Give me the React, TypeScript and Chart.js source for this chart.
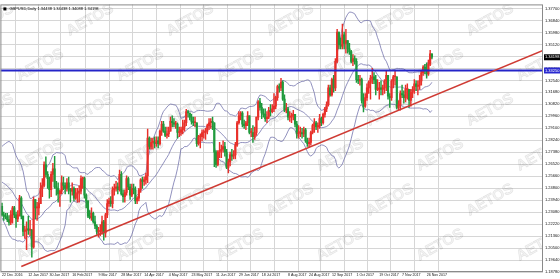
import React, { useEffect, useRef } from "react";
import { Chart, registerables } from "chart.js";
Chart.register(...registerables);

// ---------------- DATA ----------------
const symbolText = "GBPUSD,Daily";
const startDate = "2016-12-22"; // first visible bar (weekday bars follow)
const firstOpen = 1.235;

// 19 closes before the first visible bar (for the Bollinger warm-up)
const warmupCloses = [
  1.247, 1.242, 1.248, 1.251, 1.259, 1.259, 1.274, 1.27, 1.261, 1.256, 1.258, 1.265, 1.268, 1.265, 1.244,
  1.249, 1.239, 1.231, 1.235,
];

const highs = [
  // Dec 2016
  1.2375, 1.231, 1.23, 1.23, 1.2285, 1.232, 1.235,
  // Jan
  1.235, 1.231, 1.232, 1.243, 1.242, 1.228, 1.221, 1.224, 1.228, 1.225, 1.2185, 1.2417, 1.24, 1.238, 1.241, 1.252,
  1.255, 1.267, 1.2706, 1.26, 1.256, 1.26,
  // Feb
  1.266, 1.271, 1.253, 1.252, 1.247, 1.257, 1.256, 1.252, 1.255, 1.256, 1.248, 1.252, 1.249, 1.248, 1.248, 1.25,
  1.257, 1.256, 1.256, 1.244,
  // Mar
  1.239, 1.232, 1.234, 1.231, 1.228, 1.222, 1.22, 1.222, 1.228, 1.225, 1.23, 1.24, 1.241, 1.242, 1.249, 1.251,
  1.253, 1.252, 1.261, 1.26, 1.247, 1.247, 1.257,
  // Apr
  1.256, 1.251, 1.251, 1.251, 1.249, 1.242, 1.248, 1.255, 1.256, 1.256, 1.259, 1.2905, 1.285, 1.284, 1.284, 1.285,
  1.285, 1.285, 1.29, 1.296,
  // May
  1.296, 1.292, 1.292, 1.292, 1.299, 1.3, 1.298, 1.296, 1.295, 1.292, 1.292, 1.297, 1.297, 1.3047, 1.304, 1.302,
  1.301, 1.299, 1.299, 1.295, 1.286, 1.287, 1.29,
  // Jun
  1.29, 1.291, 1.294, 1.298, 1.298, 1.299, 1.295, 1.275, 1.275, 1.281, 1.279, 1.282, 1.281, 1.276, 1.269, 1.274,
  1.276, 1.275, 1.281, 1.296, 1.303, 1.303,
  // Jul
  1.303, 1.297, 1.296, 1.303, 1.3, 1.291, 1.293, 1.292, 1.299, 1.311, 1.3126, 1.309, 1.305, 1.305, 1.303, 1.306,
  1.308, 1.308, 1.316, 1.314, 1.322,
  // Aug
  1.323, 1.3268, 1.325, 1.315, 1.309, 1.306, 1.303, 1.302, 1.304, 1.301, 1.296, 1.293, 1.292, 1.291, 1.292, 1.291,
  1.284, 1.284, 1.289, 1.294, 1.298, 1.296, 1.295,
  // Sep
  1.301, 1.299, 1.302, 1.306, 1.31, 1.322, 1.322, 1.327, 1.329, 1.341, 1.362, 1.36, 1.356, 1.3657, 1.36, 1.362,
  1.354, 1.352, 1.347, 1.344, 1.343,
  // Oct
  1.341, 1.329, 1.329, 1.327, 1.316, 1.316, 1.323, 1.325, 1.329, 1.334, 1.331, 1.329, 1.326, 1.324, 1.325, 1.322,
  1.326, 1.332, 1.329, 1.316, 1.326, 1.329,
  // Nov
  1.332, 1.328, 1.311, 1.318, 1.322, 1.318, 1.322, 1.323, 1.319, 1.319, 1.321, 1.326, 1.325, 1.325, 1.329, 1.332,
  1.336, 1.337, 1.338, 1.34, 1.347, 1.34438,
];

const lows = [
  // Dec 2016
  1.228, 1.225, 1.226, 1.224, 1.2215, 1.222, 1.223,
  // Jan
  1.227, 1.22, 1.224, 1.228, 1.226, 1.214, 1.212, 1.204, 1.215, 1.214, 1.1986, 1.205, 1.226, 1.225, 1.229, 1.237,
  1.242, 1.249, 1.256, 1.248, 1.241, 1.242,
  // Feb
  1.253, 1.248, 1.243, 1.238, 1.235, 1.244, 1.247, 1.244, 1.246, 1.244, 1.238, 1.243, 1.239, 1.24, 1.238, 1.238,
  1.244, 1.248, 1.241, 1.234,
  // Mar
  1.227, 1.226, 1.225, 1.223, 1.219, 1.215, 1.213, 1.214, 1.215, 1.2109, 1.213, 1.227, 1.235, 1.235, 1.234, 1.243,
  1.246, 1.244, 1.246, 1.243, 1.238, 1.238, 1.243,
  // Apr
  1.247, 1.24, 1.242, 1.244, 1.237, 1.237, 1.239, 1.245, 1.248, 1.25, 1.251, 1.252, 1.276, 1.276, 1.276, 1.277,
  1.278, 1.277, 1.279, 1.286,
  // May
  1.288, 1.285, 1.284, 1.285, 1.289, 1.292, 1.292, 1.291, 1.284, 1.285, 1.286, 1.287, 1.289, 1.293, 1.299, 1.297,
  1.294, 1.293, 1.292, 1.278, 1.279, 1.277, 1.282,
  // Jun
  1.284, 1.283, 1.287, 1.29, 1.291, 1.29, 1.2635, 1.263, 1.264, 1.27, 1.27, 1.274, 1.271, 1.262, 1.259, 1.264,
  1.268, 1.269, 1.269, 1.278, 1.294, 1.297,
  // Jul
  1.292, 1.291, 1.29, 1.293, 1.287, 1.285, 1.281, 1.283, 1.286, 1.297, 1.304, 1.298, 1.299, 1.296, 1.295, 1.298,
  1.3, 1.302, 1.303, 1.305, 1.311,
  // Aug
  1.317, 1.318, 1.311, 1.303, 1.302, 1.297, 1.296, 1.295, 1.297, 1.292, 1.284, 1.284, 1.285, 1.284, 1.285, 1.281,
  1.278, 1.2774, 1.279, 1.287, 1.288, 1.29, 1.288,
  // Sep
  1.291, 1.293, 1.294, 1.299, 1.303, 1.307, 1.314, 1.314, 1.317, 1.318, 1.338, 1.348, 1.348, 1.348, 1.348, 1.345,
  1.345, 1.344, 1.338, 1.336, 1.337,
  // Oct
  1.324, 1.323, 1.322, 1.309, 1.3027, 1.306, 1.311, 1.316, 1.312, 1.323, 1.323, 1.315, 1.318, 1.312, 1.315, 1.315,
  1.316, 1.318, 1.312, 1.306, 1.311, 1.32,
  // Nov
  1.322, 1.305, 1.304, 1.304, 1.313, 1.309, 1.31, 1.312, 1.306, 1.307, 1.313, 1.316, 1.318, 1.315, 1.319, 1.322,
  1.329, 1.33, 1.327, 1.329, 1.336, 1.34088,
];

const closes = [
  // Dec 2016
  1.229, 1.228, 1.2275, 1.2255, 1.2235, 1.229, 1.234,
  // Jan
  1.229, 1.226, 1.229, 1.241, 1.228, 1.217, 1.218, 1.219, 1.218, 1.218, 1.206, 1.24, 1.234, 1.234, 1.237, 1.248,
  1.25, 1.265, 1.258, 1.255, 1.247, 1.258,
  // Feb
  1.262, 1.249, 1.248, 1.244, 1.246, 1.252, 1.25, 1.248, 1.252, 1.247, 1.246, 1.248, 1.241, 1.244, 1.245, 1.246,
  1.255, 1.255, 1.243, 1.239,
  // Mar
  1.228, 1.227, 1.23, 1.224, 1.221, 1.217, 1.217, 1.217, 1.224, 1.216, 1.229, 1.237, 1.239, 1.237, 1.247, 1.248,
  1.249, 1.247, 1.258, 1.244, 1.242, 1.245, 1.255,
  // Apr
  1.249, 1.243, 1.248, 1.247, 1.239, 1.241, 1.247, 1.254, 1.253, 1.254, 1.257, 1.284, 1.278, 1.281, 1.281, 1.28,
  1.282, 1.28, 1.289, 1.294,
  // May
  1.289, 1.286, 1.287, 1.289, 1.296, 1.295, 1.294, 1.294, 1.288, 1.288, 1.29, 1.292, 1.295, 1.303, 1.302, 1.299,
  1.296, 1.295, 1.295, 1.28, 1.285, 1.285, 1.288,
  // Jun
  1.288, 1.289, 1.293, 1.295, 1.296, 1.295, 1.274, 1.265, 1.274, 1.275, 1.276, 1.278, 1.274, 1.263, 1.267, 1.272,
  1.271, 1.272, 1.279, 1.295, 1.3, 1.302,
  // Jul
  1.294, 1.293, 1.295, 1.3, 1.288, 1.288, 1.285, 1.288, 1.299, 1.31, 1.306, 1.302, 1.301, 1.298, 1.299, 1.304,
  1.303, 1.305, 1.307, 1.313, 1.321,
  // Aug
  1.32, 1.324, 1.312, 1.304, 1.305, 1.299, 1.299, 1.3, 1.301, 1.294, 1.287, 1.288, 1.288, 1.287, 1.29, 1.282, 1.28,
  1.281, 1.288, 1.293, 1.295, 1.292, 1.293,
  // Sep
  1.298, 1.295, 1.301, 1.305, 1.308, 1.32, 1.315, 1.326, 1.32, 1.339, 1.36, 1.351, 1.35, 1.358, 1.352, 1.354, 1.348,
  1.346, 1.339, 1.341, 1.339,
  // Oct
  1.326, 1.325, 1.326, 1.311, 1.307, 1.313, 1.32, 1.324, 1.327, 1.328, 1.326, 1.319, 1.319, 1.32, 1.319, 1.32,
  1.325, 1.329, 1.314, 1.313, 1.325, 1.328,
  // Nov
  1.328, 1.306, 1.308, 1.316, 1.315, 1.313, 1.319, 1.319, 1.311, 1.317, 1.319, 1.323, 1.321, 1.322, 1.325, 1.331,
  1.335, 1.333, 1.33, 1.337, 1.34438, 1.34198,
];

const xTickDates = [
  "2016-12-22", "2017-01-12", "2017-01-30", "2017-02-16", "2017-03-09", "2017-03-28", "2017-04-14",
  "2017-05-04", "2017-05-23", "2017-06-11", "2017-06-29", "2017-07-18", "2017-08-08", "2017-08-24",
  "2017-09-12", "2017-10-01", "2017-10-19", "2017-11-07", "2017-11-26",
];
const xTickLabels = [
  "22 Dec 2016", "12 Jan 2017", "30 Jan 2017", "16 Feb 2017", "9 Mar 2017", "28 Mar 2017", "14 Apr 2017",
  "4 May 2017", "23 May 2017", "11 Jun 2017", "29 Jun 2017", "18 Jul 2017", "8 Aug 2017", "24 Aug 2017",
  "12 Sep 2017", "1 Oct 2017", "19 Oct 2017", "7 Nov 2017", "26 Nov 2017",
];
const yTickValues = [
  1.377, 1.3684, 1.3598, 1.3512, 1.3426, 1.334, 1.3254, 1.3168, 1.3082, 1.2996, 1.291, 1.2824, 1.2738, 1.2652,
  1.2566, 1.248, 1.2394, 1.2308, 1.2222, 1.2136, 1.205, 1.1964, 1.1878,
];
const levelPrice = 1.3325;
const trendAnchors = [
  { date: "2017-08-24", price: 1.2774 },
  { date: "2017-11-03", price: 1.304 },
];
const trendStartDate = "2017-01-06";
const watermarkText = "AETOS";

// ---------------- HELPERS ----------------
function weekdayDates(start: string, count: number): string[] {
  const out: string[] = [];
  const d = new Date(start + "T00:00:00Z");
  while (out.length < count) {
    const wd = d.getUTCDay();
    if (wd !== 0 && wd !== 6) out.push(d.toISOString().slice(0, 10));
    d.setUTCDate(d.getUTCDate() + 1);
  }
  return out;
}

export default function App() {
  const ref = useRef<HTMLCanvasElement>(null);

  useEffect(() => {
    document.body.style.margin = "0";
    const n = closes.length;
    const dates = weekdayDates(startDate, n);
    const idxOf = (d: string) => {
      const i = dates.findIndex((x) => x >= d);
      return i < 0 ? n - 1 : i;
    };
    const opens = closes.map((c, i) => (i === 0 ? firstOpen : closes[i - 1]));
    const UP = "#e8302a";
    const DOWN = "#1f9a3c";
    const colors = closes.map((c, i) => (c >= opens[i] ? UP : DOWN));

    const bodyData = closes.map((c, i) => ({ x: i, y: [opens[i], c] }));
    const wickData = closes.map((c, i) => ({ x: i, y: [lows[i], highs[i]] }));

    // Bollinger bands (20, 2)
    const all = warmupCloses.concat(closes);
    const up: any[] = [], mid: any[] = [], lo: any[] = [];
    for (let i = 0; i < n; i++) {
      const j = i + warmupCloses.length;
      const w = all.slice(Math.max(0, j - 19), j + 1);
      const m = w.reduce((a, b) => a + b, 0) / w.length;
      const sd = Math.sqrt(w.reduce((a, b) => a + (b - m) * (b - m), 0) / w.length);
      up.push({ x: i, y: m + 2 * sd });
      mid.push({ x: i, y: m });
      lo.push({ x: i, y: m - 2 * sd });
    }

    const pxPerBar = 1.756;
    const firstBarPx = 1.6;
    const plotW = 543;
    const xMin = -firstBarPx / pxPerBar;
    const xMax = xMin + plotW / pxPerBar;
    const yMax = 1.3799;
    const yMin = 1.1887;

    const a0 = trendAnchors[0], a1 = trendAnchors[1];
    const i0 = idxOf(a0.date), i1 = idxOf(a1.date);
    const slope = (a1.price - a0.price) / (i1 - i0);
    const ts = idxOf(trendStartDate);
    const trendData = [
      { x: ts, y: a0.price + slope * (ts - i0) },
      { x: xMax, y: a0.price + slope * (xMax - i0) },
    ];
    const levelData = [
      { x: xMin, y: levelPrice },
      { x: xMax, y: levelPrice },
    ];

    const tickIdx = xTickDates.map(idxOf);
    const lastClose = closes[n - 1];
    const infoText =
      symbolText + " " + [opens[n - 1], highs[n - 1], lows[n - 1], lastClose].map((v) => v.toFixed(5)).join(" ");

    const FONT = "'Liberation Sans', Arial, sans-serif";
    const noClip = { left: 0, right: 0, top: 0, bottom: 0 };

    const decorations = {
      id: "decorations",
      beforeDatasetsDraw(chart: any) {
        const { ctx, chartArea } = chart;
        ctx.save();
        ctx.beginPath();
        ctx.rect(chartArea.left, chartArea.top, chartArea.right - chartArea.left, chartArea.bottom - chartArea.top);
        ctx.clip();
        ctx.font = "bold 15px " + FONT;
        ctx.textAlign = "center";
        ctx.textBaseline = "middle";
        for (let r = 0; r < 7; r++) {
          for (let c = 0; c < 7; c++) {
            const cx = -10 + c * 100 + (r % 2) * 50;
            const cy = 20 + r * 45;
            ctx.save();
            ctx.translate(cx, cy);
            ctx.rotate(-0.5);
            ctx.fillStyle = "rgba(0,0,0,0.05)";
            ctx.fillText(watermarkText, 0, 0);
            ctx.strokeStyle = "rgba(0,0,0,0.10)";
            ctx.lineWidth = 0.6;
            ctx.strokeText(watermarkText, 0, 0);
            ctx.restore();
          }
        }
        ctx.restore();
      },
      afterDraw(chart: any) {
        const { ctx, chartArea, scales } = chart;
        const ys = scales.y;
        ctx.save();
        // chart border
        ctx.strokeStyle = "#8a8a8a";
        ctx.lineWidth = 1;
        ctx.strokeRect(chartArea.left + 0.5, chartArea.top + 0.5, chartArea.right - chartArea.left - 1, chartArea.bottom - chartArea.top);
        // info text
        ctx.fillStyle = "#000";
        ctx.fillRect(chartArea.left + 3, chartArea.top + 3, 3, 3);
        ctx.font = "4px " + FONT;
        ctx.textBaseline = "middle";
        ctx.textAlign = "left";
        ctx.fillText(infoText, chartArea.left + 9, chartArea.top + 4.5);
        // price boxes
        const box = (v: number, bg: string) => {
          const y = ys.getPixelForValue(v);
          ctx.fillStyle = bg;
          ctx.fillRect(chartArea.right + 1, y - 3, 16, 6);
          ctx.fillStyle = "#fff";
          ctx.font = "4px " + FONT;
          ctx.textAlign = "left";
          ctx.fillText(v.toFixed(5), chartArea.right + 2, y);
        };
        box(levelPrice, "#2a2ad0");
        box(lastClose, "#000");
        ctx.restore();
      },
    };

    const bandColor = "rgba(110,110,170,0.85)";
    const chart = new Chart(ref.current as HTMLCanvasElement, {
      type: "bar",
      data: {
        datasets: [
          { type: "line", data: trendData, borderColor: "#cf3b34", borderWidth: 1.6, pointRadius: 0, order: 0, clip: noClip } as any,
          { type: "line", data: levelData, borderColor: "#2424c8", borderWidth: 2, pointRadius: 0, order: 1, clip: noClip } as any,
          { type: "bar", data: bodyData, backgroundColor: colors, barThickness: 1.5, minBarLength: 1, grouped: false, order: 2 } as any,
          { type: "bar", data: wickData, backgroundColor: colors, barThickness: 0.8, grouped: false, order: 3 } as any,
          { type: "line", data: up, borderColor: bandColor, borderWidth: 0.9, pointRadius: 0, order: 4, clip: noClip } as any,
          { type: "line", data: mid, borderColor: bandColor, borderWidth: 0.9, pointRadius: 0, order: 5, clip: noClip } as any,
          { type: "line", data: lo, borderColor: bandColor, borderWidth: 0.9, pointRadius: 0, order: 6, clip: noClip } as any,
        ],
      },
      options: {
        responsive: false,
        animation: false,
        devicePixelRatio: 1,
        layout: { padding: { top: 1, left: 0, right: 0, bottom: 0 } },
        plugins: { legend: { display: false }, tooltip: { enabled: false } },
        scales: {
          x: {
            type: "linear",
            min: xMin,
            max: xMax,
            offset: false,
            afterBuildTicks: (s: any) => {
              s.ticks = tickIdx.map((v) => ({ value: v }));
            },
            afterFit: (s: any) => {
              s.height = 8;
            },
            ticks: {
              autoSkip: false,
              maxRotation: 0,
              align: "start",
              padding: 2,
              color: "#111",
              font: { size: 3.6, family: FONT },
              callback: (_v: any, i: number) => xTickLabels[i],
            },
            grid: { color: "#d6d6d6", lineWidth: 1, drawTicks: false },
            border: { display: false },
          },
          y: {
            type: "linear",
            position: "right",
            min: yMin,
            max: yMax,
            afterBuildTicks: (s: any) => {
              s.ticks = yTickValues.map((v) => ({ value: v }));
            },
            afterFit: (s: any) => {
              s.width = 17;
            },
            ticks: {
              autoSkip: false,
              padding: 2,
              color: "#111",
              font: { size: 4, family: FONT },
              callback: (v: any) => Number(v).toFixed(5),
            },
            grid: { color: "#d6d6d6", lineWidth: 1, drawTicks: false },
            border: { display: false },
          },
        },
      } as any,
      plugins: [decorations],
    });
    return () => chart.destroy();
  }, []);

  return (
    <div style={{ position: "fixed", left: 0, top: 0, width: 560, height: 279, background: "#fff" }}>
      <canvas ref={ref} width={560} height={279} />
    </div>
  );
}
